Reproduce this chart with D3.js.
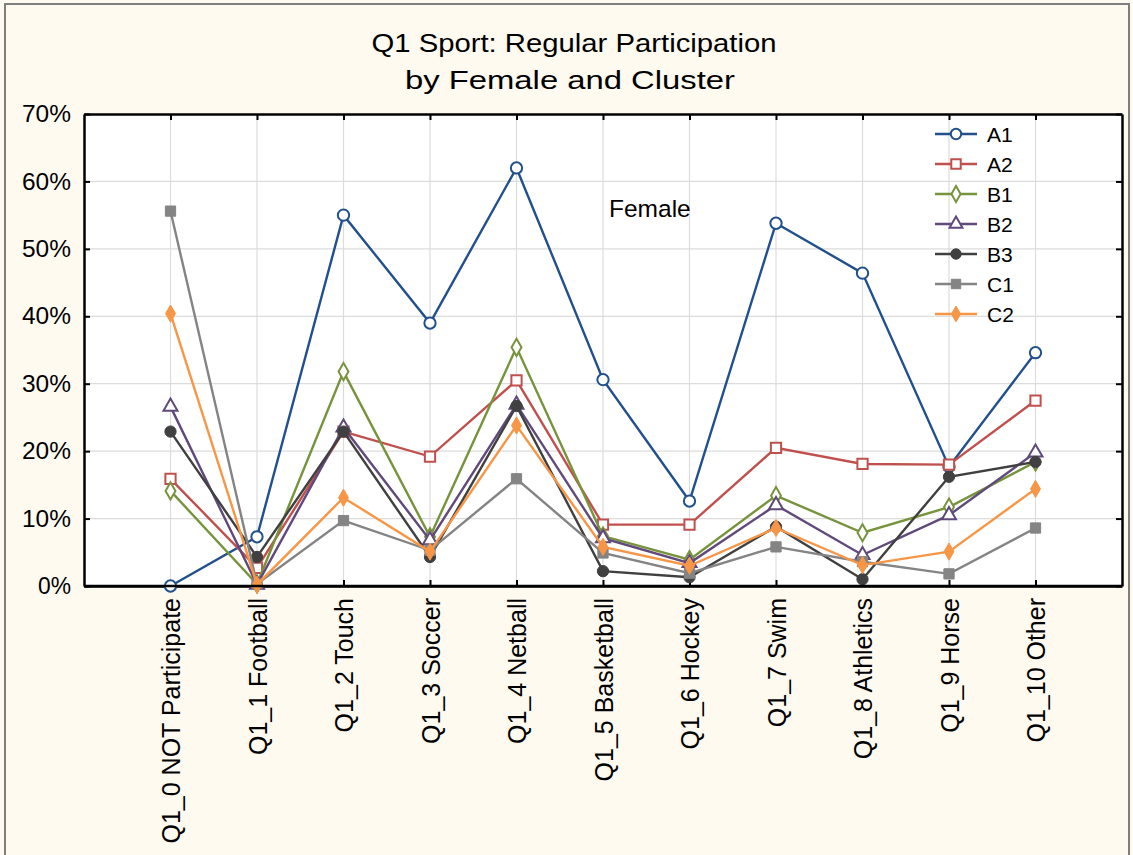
<!DOCTYPE html>
<html>
<head>
<meta charset="utf-8">
<script src="https://d3js.org/d3.v7.min.js"></script>
<style>
  body { margin: 0; background: #fefaf0; }
  text { font-family: "Liberation Sans", Arial, sans-serif; fill: #000; }
</style>
</head>
<body>
<svg width="1133" height="855"></svg>
<script>
var categories = ["Q1_0 NOT Participate", "Q1_1 Football", "Q1_2 Touch", "Q1_3 Soccer",
  "Q1_4 Netball", "Q1_5 Basketball", "Q1_6 Hockey", "Q1_7 Swim", "Q1_8 Athletics",
  "Q1_9 Horse", "Q1_10 Other"];

var seriesNames = ["A1", "A2", "B1", "B2", "B3", "C1", "C2"];

var A1 = [0.0, 7.3, 55.0, 39.0, 62.0, 30.6, 12.6, 53.8, 46.4, 17.7, 34.6];
var A2 = [15.9, 2.7, 22.9, 19.2, 30.5, 9.1, 9.1, 20.5, 18.1, 18.0, 27.5];
var B1 = [14.1, 0.3, 31.8, 7.3, 35.4, 7.4, 3.9, 13.4, 7.9, 11.7, 18.4];
var B2 = [26.6, 0.2, 23.5, 6.8, 26.9, 7.1, 3.4, 12.0, 4.6, 10.5, 19.8];
var B3 = [22.9, 4.3, 22.9, 4.3, 26.7, 2.2, 1.3, 8.8, 1.0, 16.2, 18.4];
var C1 = [55.6, 0.3, 9.7, 5.3, 15.9, 4.9, 1.9, 5.8, 3.6, 1.8, 8.6];
var C2 = [40.4, 0.2, 13.1, 5.1, 23.8, 5.8, 3.0, 8.6, 3.1, 5.1, 14.4];

var yTicks = [0, 10, 20, 30, 40, 50, 60, 70];

var seriesValues = [A1, A2, B1, B2, B3, C1, C2];
var colors = ["#22508c", "#c0504d", "#77933c", "#604a7b", "#404040", "#848484", "#f79646"];
var symbols = ["circleOpen", "squareOpen", "diamondOpen", "triangleOpen", "circle", "square", "diamond"];

var svg = d3.select("svg");

var plotL = 84, plotR = 1122, plotT = 114, plotB = 586;

var x = d3.scalePoint().domain(categories).range([plotL, plotR]).padding(1);
var y = d3.scaleLinear().domain([0, 70]).range([plotB, plotT]);

// outer frame
svg.append("rect")
  .attr("x", 5).attr("y", 4).attr("width", 1124).attr("height", 900)
  .attr("fill", "#fefaf0").attr("stroke", "#7f7f7f").attr("stroke-width", 2);

// title
svg.append("text").attr("x", 574).attr("y", 52).attr("text-anchor", "middle")
  .attr("textLength", 405).attr("lengthAdjust", "spacingAndGlyphs")
  .style("font-size", "25px").text("Q1 Sport: Regular Participation");
svg.append("text").attr("x", 570).attr("y", 89).attr("text-anchor", "middle")
  .attr("textLength", 330).attr("lengthAdjust", "spacingAndGlyphs")
  .style("font-size", "25px").text("by Female and Cluster");

// plot area
svg.append("rect").attr("x", plotL).attr("y", plotT)
  .attr("width", plotR - plotL).attr("height", plotB - plotT).attr("fill", "#fff");

var grid = svg.append("g").attr("stroke", "#dcdcdc").attr("stroke-width", 1.2);
grid.selectAll(".h").data(yTicks.slice(1, -1)).enter().append("line")
  .attr("x1", plotL).attr("x2", plotR)
  .attr("y1", function(d) { return y(d); }).attr("y2", function(d) { return y(d); });
grid.selectAll(".v").data(categories).enter().append("line")
  .attr("y1", plotT).attr("y2", plotB)
  .attr("x1", function(d) { return x(d); }).attr("x2", function(d) { return x(d); });

// axes (ticks pointing inward)
var fmt = function(d) { return d + "%"; };
var axL = svg.append("g").attr("transform", "translate(" + plotL + ",0)")
  .call(d3.axisLeft(y).tickValues(yTicks).tickFormat(fmt).tickSizeInner(-6).tickSizeOuter(0).tickPadding(13));
var axR = svg.append("g").attr("transform", "translate(" + plotR + ",0)")
  .call(d3.axisRight(y).tickValues(yTicks).tickFormat("").tickSizeInner(-6).tickSizeOuter(0));
var axB = svg.append("g").attr("transform", "translate(0," + plotB + ")")
  .call(d3.axisBottom(x).tickSizeInner(-6).tickSizeOuter(0));
var axT = svg.append("g").attr("transform", "translate(0," + plotT + ")")
  .call(d3.axisTop(x).tickFormat("").tickSizeInner(-6).tickSizeOuter(0));

[axL, axR, axB, axT].forEach(function(a) {
  a.selectAll("path.domain").attr("stroke", "#000").attr("stroke-width", 2.5);
  a.selectAll(".tick line").attr("stroke", "#000").attr("stroke-width", 2);
});
// the y labels in the reference are drawn a little wider than plain Arial
axL.selectAll("text").style("font-size", "24px").attr("font-family", null)
  .attr("textLength", function(d) { return d === 0 ? 33 : 49; })
  .attr("lengthAdjust", "spacingAndGlyphs");
axB.selectAll("text")
  .style("font-size", "25px").attr("font-family", null)
  .attr("text-anchor", "end")
  .attr("transform", "rotate(-90)")
  .attr("x", -12).attr("y", 0).attr("dy", "0.36em");

// "Female" label
svg.append("text").attr("x", 609).attr("y", 217).style("font-size", "24.5px").text("Female");

// series
var line = d3.line()
  .x(function(d, i) { return x(categories[i]); })
  .y(function(d) { return y(d); });

function symbolPath(kind, scale) {
  var base = kind.replace("Open", "");
  var map = { circle: d3.symbolCircle, square: d3.symbolSquare, diamond: d3.symbolDiamond, triangle: d3.symbolTriangle };
  var size = { circle: 100, square: 105, diamond: 85, triangle: 85 }[base];
  return d3.symbol().type(map[base]).size(size * scale)();
}

function drawMarker(sel, kind, color, scale) {
  var open = kind.indexOf("Open") >= 0;
  sel.attr("d", symbolPath(kind, scale || 1))
    .attr("fill", open ? "#fff" : color)
    .attr("stroke", color)
    .attr("stroke-width", open ? 2 : 1);
}

seriesValues.forEach(function(vals, s) {
  var g = svg.append("g");
  g.append("path").datum(vals).attr("d", line)
    .attr("fill", "none").attr("stroke", colors[s]).attr("stroke-width", 2.4);
  g.selectAll("path.m").data(vals).enter().append("path").attr("class", "m")
    .attr("transform", function(d, i) { return "translate(" + x(categories[i]) + "," + y(d) + ")"; })
    .call(drawMarker, symbols[s], colors[s]);
});

// bottom axis line back on top of the markers
svg.append("line").attr("x1", plotL).attr("x2", plotR).attr("y1", plotB).attr("y2", plotB)
  .attr("stroke", "#000").attr("stroke-width", 2.5);

// legend
var legend = svg.append("g");
seriesNames.forEach(function(name, i) {
  var ly = 134 + i * 30;
  var item = legend.append("g").attr("transform", "translate(0," + ly + ")");
  item.append("line").attr("x1", 935).attr("x2", 977).attr("y1", 0).attr("y2", 0)
    .attr("stroke", colors[i]).attr("stroke-width", 2.4);
  item.append("path").attr("transform", "translate(956,0)").call(drawMarker, symbols[i], colors[i], 0.85);
  item.append("text").attr("x", 987).attr("y", 0).attr("dy", "0.36em")
    .style("font-size", "21px").text(name);
});
</script>
</body>
</html>
